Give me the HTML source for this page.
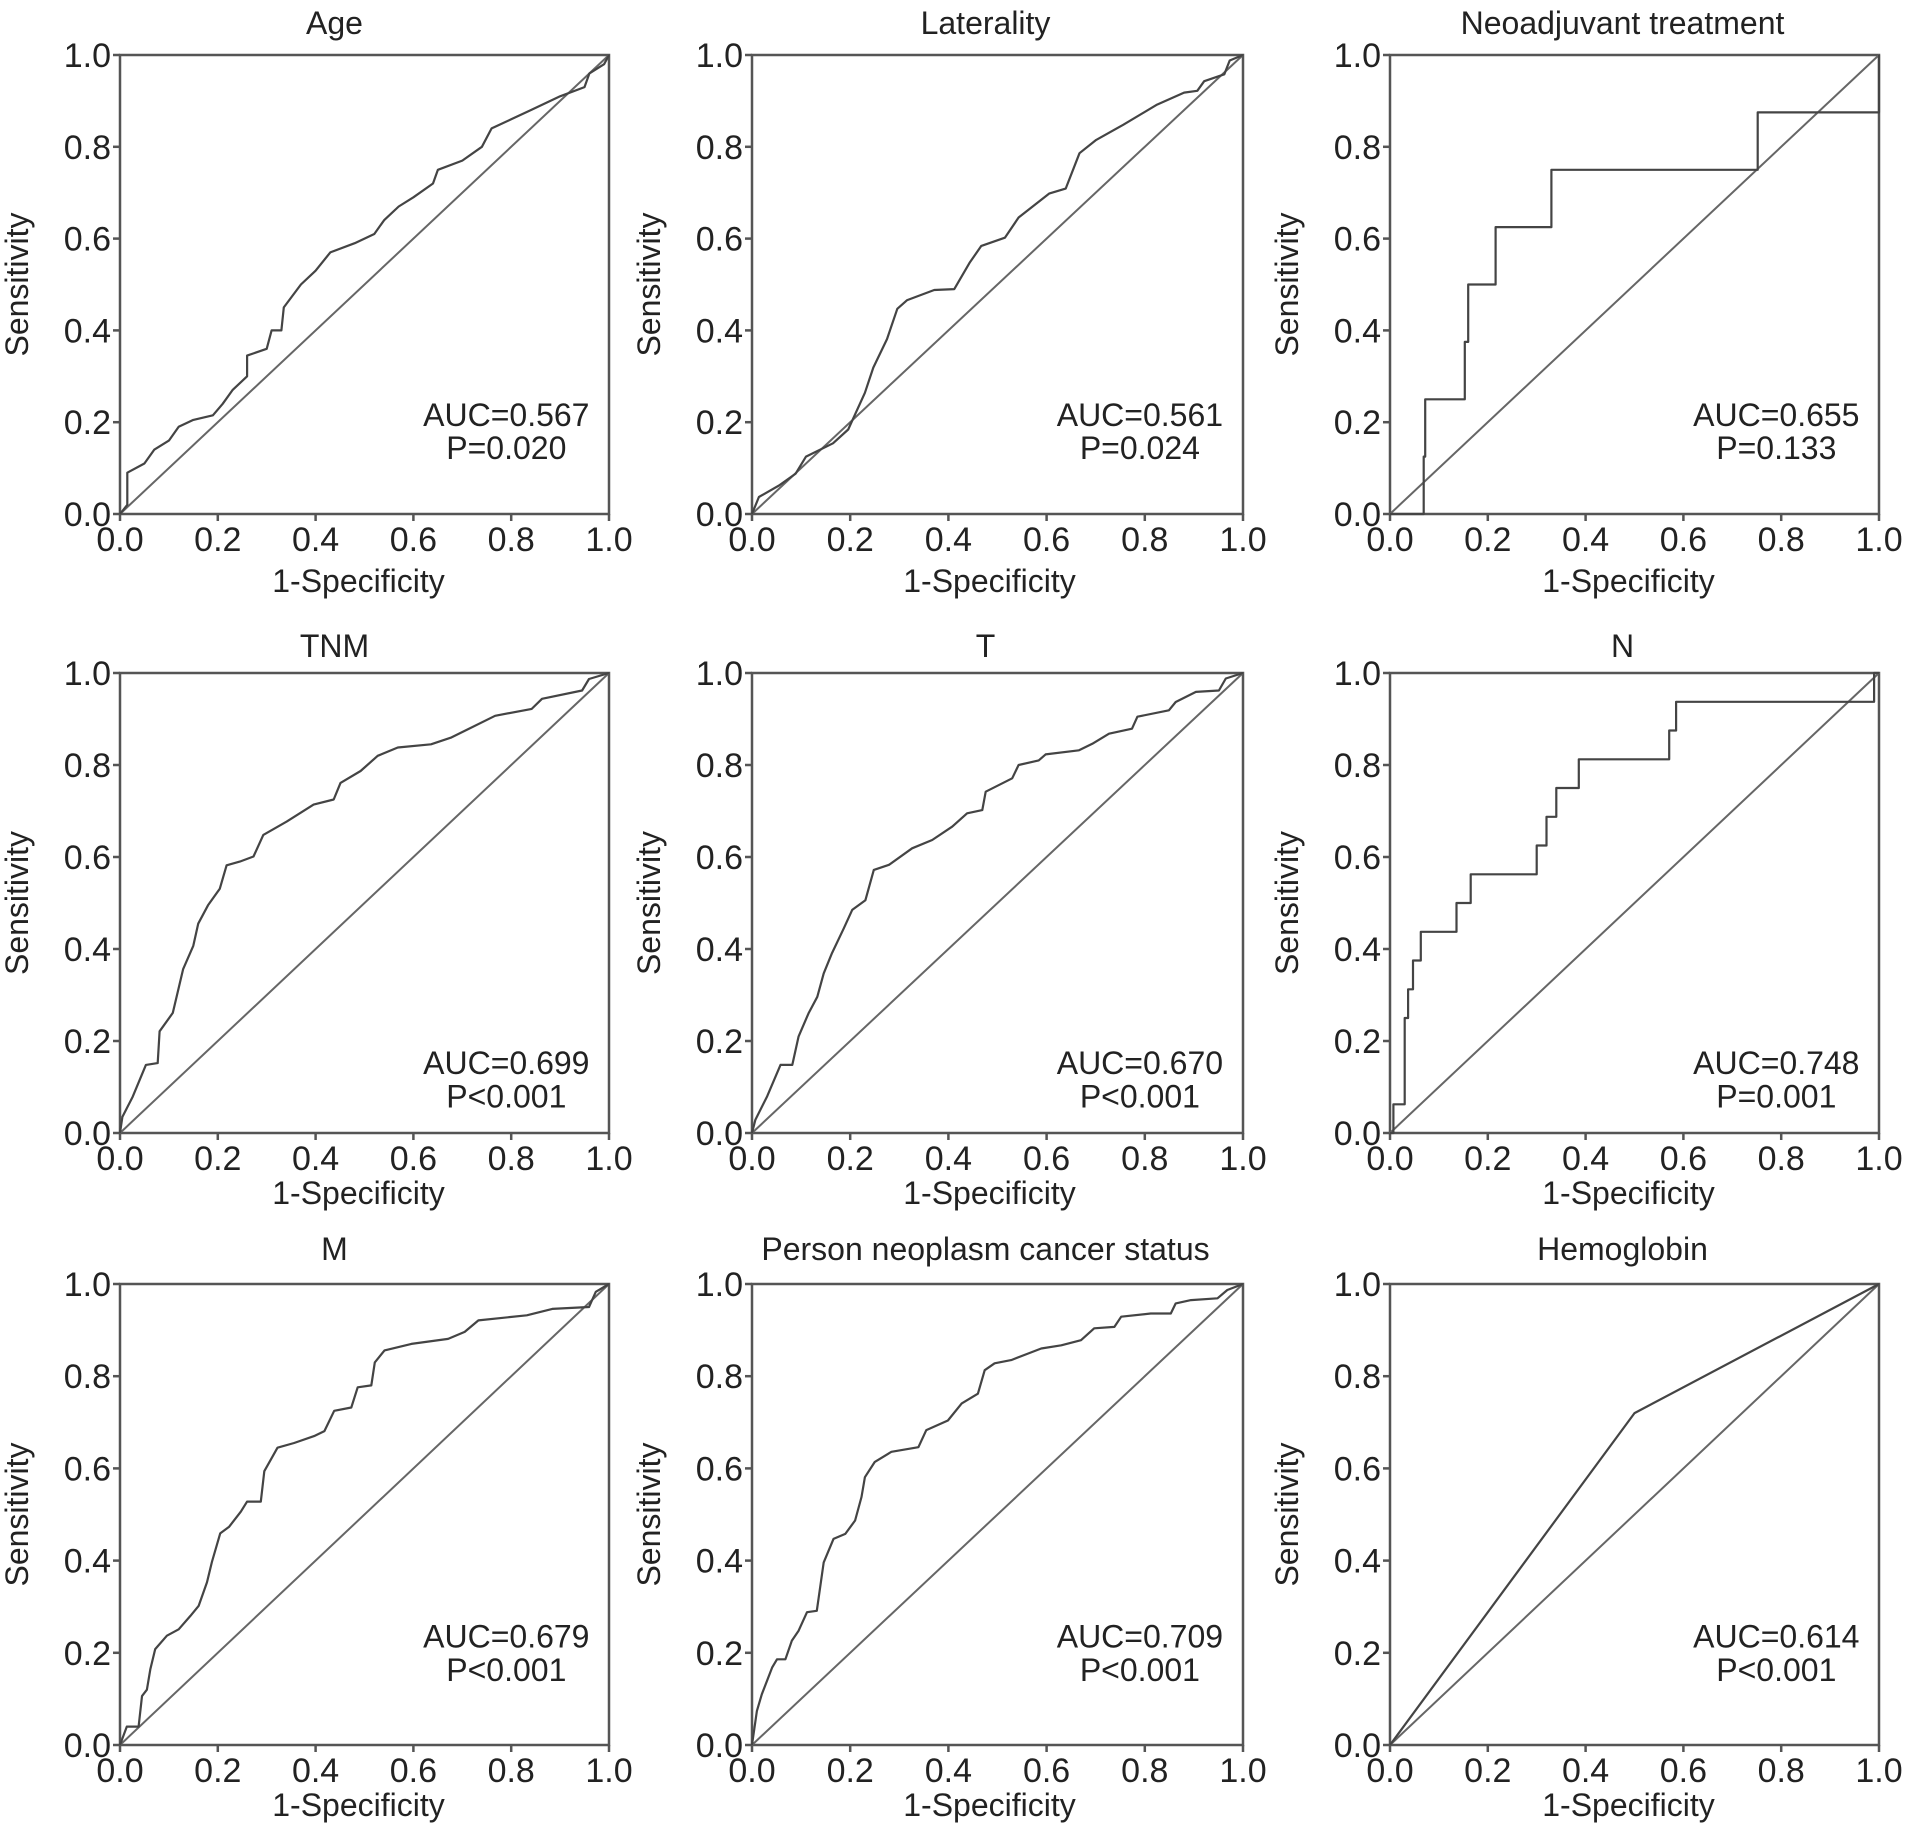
<!DOCTYPE html>
<html><head><meta charset="utf-8"><style>
html,body{margin:0;padding:0;background:#fff;}
svg{display:block;}
text{font-family:"Liberation Sans",Arial,sans-serif;fill:#222;}
</style></head><body>
<svg id="chart" width="1913" height="1836" viewBox="0 0 1913 1836" xmlns="http://www.w3.org/2000/svg"></svg>
<script>
const titles = ["Age","Laterality","Neoadjuvant treatment","TNM","T","N","M","Person neoplasm cancer status","Hemoglobin"];
const aucLabels = ["AUC=0.567","AUC=0.561","AUC=0.655","AUC=0.699","AUC=0.670","AUC=0.748","AUC=0.679","AUC=0.709","AUC=0.614"];
const pLabels = ["P=0.020","P=0.024","P=0.133","P<0.001","P<0.001","P=0.001","P<0.001","P<0.001","P<0.001"];
const tickLabels = ["0.0","0.2","0.4","0.6","0.8","1.0"];
const tickValues = [0,0.2,0.4,0.6,0.8,1.0];

const ageFpr = [0,0.015,0.015,0.05,0.07,0.1,0.12,0.15,0.19,0.21,0.23,0.26,0.26,0.3,0.31,0.33,0.335,0.37,0.4,0.43,0.48,0.52,0.54,0.57,0.6,0.64,0.65,0.7,0.74,0.76,0.8,0.84,0.9,0.95,0.96,0.99,1];
const ageTpr = [0,0.02,0.09,0.11,0.14,0.16,0.19,0.205,0.215,0.24,0.27,0.30,0.345,0.36,0.4,0.4,0.45,0.5,0.53,0.57,0.59,0.61,0.64,0.67,0.69,0.72,0.75,0.77,0.8,0.84,0.86,0.88,0.91,0.93,0.96,0.98,1];
const latFpr = [0,0.014,0.055,0.089,0.11,0.165,0.196,0.23,0.247,0.275,0.296,0.316,0.371,0.412,0.443,0.467,0.515,0.543,0.605,0.639,0.667,0.701,0.756,0.825,0.88,0.907,0.921,0.962,0.973,1];
const latTpr = [0,0.037,0.062,0.088,0.125,0.154,0.184,0.264,0.319,0.381,0.447,0.466,0.488,0.49,0.547,0.584,0.602,0.646,0.698,0.709,0.786,0.815,0.848,0.892,0.918,0.922,0.943,0.958,0.988,1];
const neoFpr = [0,0.069,0.069,0.072,0.072,0.153,0.153,0.16,0.16,0.216,0.216,0.33,0.33,0.752,0.752,1,1];
const neoTpr = [0,0,0.125,0.125,0.25,0.25,0.375,0.375,0.5,0.5,0.625,0.625,0.75,0.75,0.875,0.875,1];
const tnmFpr = [0,0.005,0.026,0.053,0.077,0.081,0.108,0.129,0.15,0.16,0.18,0.204,0.218,0.245,0.273,0.293,0.341,0.396,0.437,0.451,0.492,0.527,0.568,0.636,0.678,0.712,0.767,0.842,0.863,0.945,0.959,1];
const tnmTpr = [0,0.035,0.079,0.148,0.152,0.221,0.261,0.356,0.407,0.455,0.495,0.531,0.582,0.59,0.601,0.648,0.677,0.714,0.725,0.761,0.787,0.82,0.838,0.845,0.86,0.878,0.907,0.922,0.944,0.962,0.987,1];
const tFpr = [0,0.007,0.031,0.058,0.082,0.095,0.115,0.133,0.146,0.163,0.187,0.204,0.231,0.248,0.279,0.326,0.367,0.408,0.438,0.469,0.476,0.53,0.543,0.584,0.598,0.666,0.693,0.727,0.774,0.785,0.849,0.863,0.904,0.951,0.965,1];
const tTpr = [0,0.029,0.08,0.148,0.148,0.21,0.26,0.296,0.347,0.391,0.445,0.485,0.506,0.572,0.583,0.619,0.637,0.666,0.695,0.702,0.742,0.771,0.8,0.81,0.823,0.832,0.846,0.868,0.879,0.905,0.919,0.937,0.959,0.962,0.988,1];
const nFpr = [0,0.007,0.007,0.03,0.03,0.037,0.037,0.047,0.047,0.063,0.063,0.136,0.136,0.165,0.165,0.3,0.3,0.32,0.32,0.34,0.34,0.386,0.386,0.571,0.571,0.585,0.585,0.99,0.99,1];
const nTpr = [0,0,0.0625,0.0625,0.25,0.25,0.3125,0.3125,0.375,0.375,0.4375,0.4375,0.5,0.5,0.5625,0.5625,0.625,0.625,0.6875,0.6875,0.75,0.75,0.8125,0.8125,0.875,0.875,0.9375,0.9375,1,1];
const mFpr = [0,0.014,0.038,0.045,0.055,0.062,0.072,0.096,0.12,0.144,0.161,0.178,0.188,0.205,0.223,0.247,0.26,0.288,0.295,0.312,0.322,0.356,0.397,0.418,0.438,0.473,0.486,0.514,0.521,0.541,0.596,0.671,0.705,0.733,0.832,0.884,0.959,0.973,1];
const mTpr = [0,0.04,0.04,0.106,0.12,0.164,0.208,0.237,0.251,0.28,0.302,0.353,0.397,0.459,0.473,0.506,0.528,0.528,0.594,0.626,0.645,0.655,0.67,0.681,0.725,0.732,0.776,0.78,0.83,0.856,0.87,0.881,0.896,0.921,0.932,0.946,0.95,0.983,1];
const pnFpr = [0,0.01,0.02,0.041,0.051,0.068,0.081,0.095,0.112,0.132,0.146,0.166,0.19,0.21,0.223,0.23,0.25,0.284,0.339,0.355,0.399,0.427,0.46,0.474,0.494,0.528,0.562,0.589,0.63,0.67,0.697,0.738,0.752,0.812,0.853,0.863,0.894,0.948,0.968,1];
const pnTpr = [0,0.074,0.11,0.168,0.186,0.186,0.226,0.248,0.288,0.291,0.396,0.447,0.458,0.487,0.538,0.581,0.614,0.636,0.646,0.683,0.704,0.741,0.762,0.813,0.828,0.835,0.849,0.86,0.867,0.878,0.904,0.907,0.929,0.936,0.936,0.958,0.965,0.969,0.987,1];
const hbFpr = [0,0.5,1];
const hbTpr = [0,0.72,1];

const seriesFpr = [ageFpr,latFpr,neoFpr,tnmFpr,tFpr,nFpr,mFpr,pnFpr,hbFpr];
const seriesTpr = [ageTpr,latTpr,neoTpr,tnmTpr,tTpr,nTpr,mTpr,pnTpr,hbTpr];
const panelNames = ["age","laterality","neoadjuvant","tnm","t","n","m","person-status","hemoglobin"];

const colX = [[120,609],[752,1243],[1390,1879]];
const rowY = [[55,514],[673,1133],[1284,1745]];
const labelOff = [78,71,71];
const titleOff = [21,16,24];
const titleShift = [-30,-12,-12];
const xtShift = [-6,-8,-6];
const aucFrac = [[0.218,0.146],[0.154,0.082],[0.237,0.165]];

const NS = "http://www.w3.org/2000/svg";
const svg = document.getElementById('chart');
function mk(tag, attrs, parent){const e=document.createElementNS(NS,tag);for(const k in attrs)e.setAttribute(k,attrs[k]);(parent||svg).appendChild(e);return e;}

for(let i=0;i<9;i++){
  const r=Math.floor(i/3), c=i%3;
  const [x0,x1]=colX[c], [y0,y1]=rowY[r];
  const sx=v=>x0+v*(x1-x0), sy=v=>y1-v*(y1-y0);
  const g=mk('g',{});
  
  
  const t=mk('text',{x:(x0+x1)/2+titleShift[c],y:y0-titleOff[r],'text-anchor':'middle','font-size':32},g);
  t.textContent=titles[i];
  
  
  const fr=mk('rect',{x:x0,y:y0,width:x1-x0,height:y1-y0,fill:'none',stroke:'#555','stroke-width':2.5},g);
  
  
  tickValues.forEach((v,k)=>{
    mk('line',{x1:sx(v),x2:sx(v),y1:y1,y2:y1+7,stroke:'#555','stroke-width':2.5},g);
    mk('line',{x1:x0-7,x2:x0,y1:sy(v),y2:sy(v),stroke:'#555','stroke-width':2.5},g);
    const xl=mk('text',{x:sx(v),y:y1+37,'text-anchor':'middle','font-size':34},g);
    xl.textContent=tickLabels[k];
    
    
    const yl=mk('text',{x:x0-9,y:sy(v)+12,'text-anchor':'end','font-size':34},g);
    yl.textContent=tickLabels[k];
    
    
  });
  const xt=mk('text',{x:(x0+x1)/2+xtShift[c],y:y1+labelOff[r],'text-anchor':'middle','font-size':32},g);
  xt.textContent='1-Specificity';
  
  
  const yc=(y0+y1)/2, yx=x0-92;
  const yt=mk('text',{x:yx,y:yc,'text-anchor':'middle','font-size':32,transform:`rotate(-90 ${yx} ${yc})`},g);
  yt.textContent='Sensitivity';
  
  
  const dg=mk('line',{x1:sx(0),y1:sy(0),x2:sx(1),y2:sy(1),stroke:'#666','stroke-width':2},g);
  
  
  const fx=seriesFpr[i], ty=seriesTpr[i];
  const d=fx.map((v,k)=>(k?'L':'M')+sx(v).toFixed(1)+' '+sy(ty[k]).toFixed(1)).join(' ');
  const p=mk('path',{d:d,fill:'none',stroke:'#444','stroke-width':2.2,'stroke-linejoin':'round'},g);
  
  
  const ax=x0+0.79*(x1-x0);
  const a=mk('text',{x:ax,y:sy(aucFrac[r][0])+12,'text-anchor':'middle','font-size':32},g);
  a.textContent=aucLabels[i];
  
  
  const pp=mk('text',{x:ax,y:sy(aucFrac[r][1])+12,'text-anchor':'middle','font-size':32},g);
  pp.textContent=pLabels[i];
  
  
}
</script>
</body></html>
